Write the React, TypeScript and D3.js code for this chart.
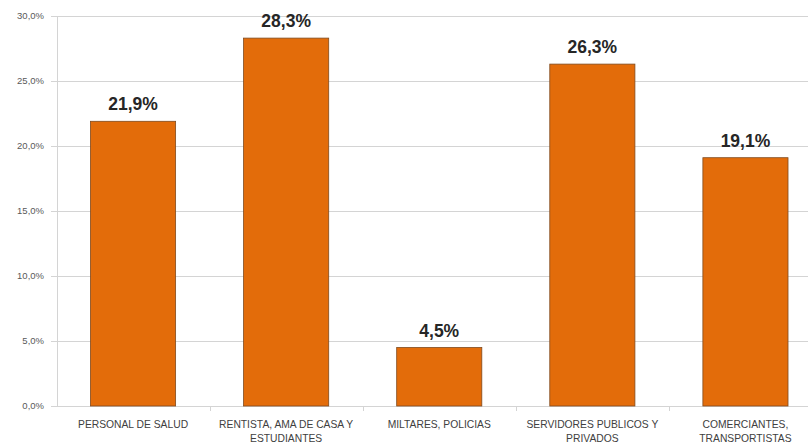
import React from "react";
import * as d3 from "d3";

const categories: string[][] = [
  ["PERSONAL DE SALUD"],
  ["RENTISTA, AMA DE CASA Y", "ESTUDIANTES"],
  ["MILTARES, POLICIAS"],
  ["SERVIDORES PUBLICOS Y", "PRIVADOS"],
  ["COMERCIANTES,", "TRANSPORTISTAS"],
];
const values: number[] = [21.9, 28.3, 4.5, 26.3, 19.1];
const yTicks: number[] = [0, 5, 10, 15, 20, 25, 30];

const W = 808;
const H = 445;
const left = 56.5;
const right = 822;
const top = 16;
const bottom = 406;

const fmt = (v: number, d: number) => v.toFixed(d).replace(".", ",") + "%";

export default function App() {
  const keys = categories.map((c) => c.join(" "));
  const x = d3.scaleBand<string>().domain(keys).range([left, right]).padding(0);
  const y = d3.scaleLinear().domain([0, 30]).range([bottom, top]);
  const barW = x.bandwidth() * 0.556;
  const font = "'Liberation Sans', Arial, sans-serif";

  return (
    <svg
      width={W}
      height={H}
      style={{ position: "absolute", left: 0, top: 0, background: "#fff" }}
      fontFamily={font}
    >
      {yTicks.map((t) => (
        <g key={t}>
          <line
            x1={51}
            x2={W}
            y1={Math.round(y(t)) + 0.5}
            y2={Math.round(y(t)) + 0.5}
            stroke="#d4d4d4"
            strokeWidth={1}
          />
          <text
            x={44}
            y={y(t)}
            dy="0.35em"
            textAnchor="end"
            fontSize={9.5}
            fill="#595959"
          >
            {fmt(t, 1)}
          </text>
        </g>
      ))}
      <line x1={57.5} x2={57.5} y1={top} y2={bottom} stroke="#d4d4d4" />
      {keys.map((k, i) =>
        i === 0 ? null : (
          <line
            key={"t" + k}
            x1={Math.round(x(k)!) + 0.5}
            x2={Math.round(x(k)!) + 0.5}
            y1={bottom}
            y2={bottom + 5}
            stroke="#d4d4d4"
          />
        )
      )}
      {keys.map((k, i) => {
        const cx = x(k)! + x.bandwidth() / 2;
        const v = values[i];
        return (
          <g key={k}>
            <rect
              x={cx - barW / 2}
              y={y(v)}
              width={barW}
              height={bottom - y(v)}
              fill="#E36C0A"
              stroke="#7f4a1e"
              strokeWidth={0.8}
            />
            <text
              x={cx}
              y={y(v) - 11}
              textAnchor="middle"
              fontSize={17.5}
              fontWeight="bold"
              fill="#262626"
            >
              {fmt(v, 1)}
            </text>
            {categories[i].map((line, j) => (
              <text
                key={j}
                x={cx}
                y={424 + j * 14}
                dy="0.35em"
                textAnchor="middle"
                fontSize={10.3}
                fill="#404040"
              >
                {line}
              </text>
            ))}
          </g>
        );
      })}
    </svg>
  );
}
